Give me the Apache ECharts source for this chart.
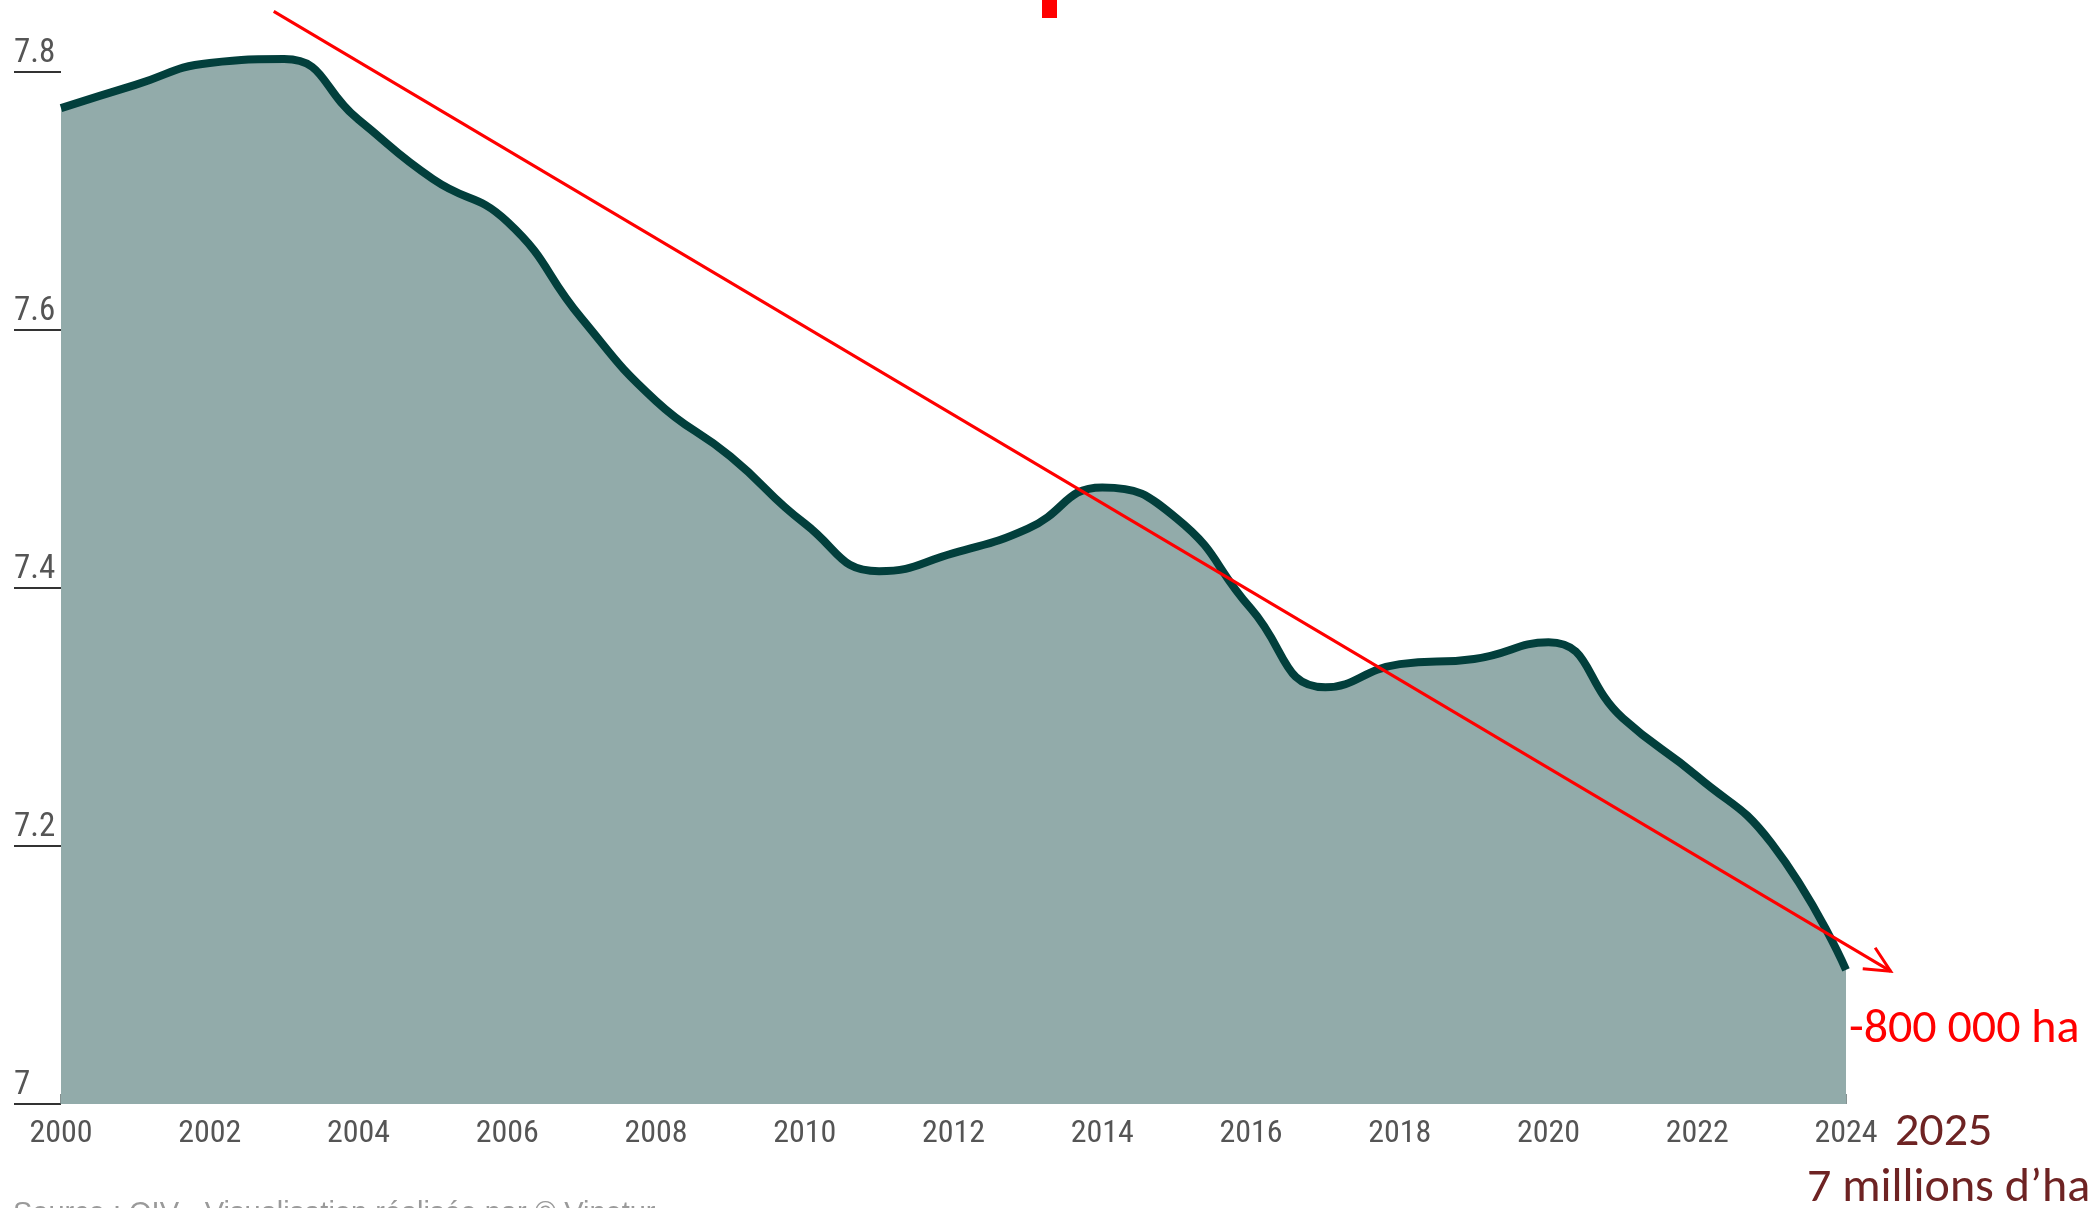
<!DOCTYPE html>
<html>
<head>
<meta charset="utf-8">
<script src="https://cdn.jsdelivr.net/npm/echarts@6/dist/echarts.min.js"></script>
<style>
  html, body { margin: 0; padding: 0; background: #ffffff; }
  #main { width: 2097px; height: 1208px; }
</style>
</head>
<body>
<div id="main"></div>
<script>
  // surface du vignoble mondial (millions d'ha)
  var years = [2000, 2001, 2002, 2003, 2004, 2005, 2006, 2007, 2008, 2009, 2010, 2011,
               2012, 2013, 2014, 2015, 2016, 2017, 2018, 2019, 2020, 2021, 2022, 2023, 2024];
  var surface = [7.772, 7.790, 7.807, 7.810, 7.763, 7.717, 7.684, 7.609, 7.545, 7.502, 7.450, 7.413,
                 7.427, 7.446, 7.478, 7.454, 7.384, 7.323, 7.341, 7.345, 7.358, 7.299, 7.254, 7.202, 7.104];
  var yTicks = [7, 7.2, 7.4, 7.6, 7.8];
  var xTicks = [2000, 2002, 2004, 2006, 2008, 2010, 2012, 2014, 2016, 2018, 2020, 2022, 2024];
  // tendance (flèche rouge) : début et fin en coordonnées données
  var trendStart = [2002.86, 7.847];
  var trendEnd = [2024.6, 7.103];

  var axisFont = "'Roboto Condensed', 'Liberation Sans Narrow', Roboto, sans-serif";
  var noteFont = "Carlito, 'Open Sans', 'Noto Sans', sans-serif";

  var myChart = echarts.init(document.getElementById('main'));

  var option = {
    backgroundColor: '#ffffff',
    animation: false,
    grid: { left: 61, right: 251, top: 72, bottom: 104 },
    xAxis: {
      type: 'value',
      min: xTicks[0],
      max: xTicks[xTicks.length - 1],
      interval: 2,
      axisLine: { show: false },
      axisTick: { show: true, inside: true, length: 10, lineStyle: { color: '#5f6f6f', width: 1.5 } },
      splitLine: { show: false },
      axisLabel: {
        color: '#555555',
        fontFamily: axisFont,
        fontSize: 32,
        margin: 14,
        formatter: function (v) { return String(v); }
      }
    },
    yAxis: {
      type: 'value',
      min: yTicks[0],
      max: yTicks[yTicks.length - 1],
      interval: 0.2,
      axisLine: { show: false },
      axisTick: { show: true, inside: false, length: 47, lineStyle: { color: '#333333', width: 2 } },
      splitLine: { show: false },
      axisLabel: {
        color: '#555555',
        fontFamily: axisFont,
        fontSize: 33,
        align: 'left',
        verticalAlign: 'bottom',
        margin: 47,
        padding: [0, 0, 2, 0],
        formatter: function (v) { return String(Math.round(v * 10) / 10); }
      }
    },
    series: [
      {
        type: 'line',
        data: years.map(function (y, i) { return [y, surface[i]]; }),
        smooth: 0.5,
        clip: false,
        showSymbol: false,
        lineStyle: { color: '#023f3c', width: 8 },
        areaStyle: { color: '#92abaa', opacity: 1 }
      }
    ]
  };

  myChart.setOption(option);

  // annotations
  var p0 = myChart.convertToPixel({ gridIndex: 0 }, trendStart);
  var p1 = myChart.convertToPixel({ gridIndex: 0 }, trendEnd);
  var ang = Math.atan2(p1[1] - p0[1], p1[0] - p0[0]);
  var headLen = 28, headAng = 0.45;
  var h1 = [p1[0] - headLen * Math.cos(ang - headAng), p1[1] - headLen * Math.sin(ang - headAng)];
  var h2 = [p1[0] - headLen * Math.cos(ang + headAng), p1[1] - headLen * Math.sin(ang + headAng)];

  myChart.setOption({
    graphic: [
      {
        type: 'line',
        shape: { x1: p0[0], y1: p0[1], x2: p1[0], y2: p1[1] },
        style: { stroke: '#ff0000', lineWidth: 3 },
        z: 10
      },
      {
        type: 'polyline',
        shape: { points: [h1, p1, h2] },
        style: { stroke: '#ff0000', lineWidth: 3, fill: null },
        z: 10
      },
      {
        type: 'rect',
        shape: { x: 1042, y: 0, width: 15, height: 18 },
        style: { fill: '#ff0000' }
      },
      {
        type: 'text',
        x: 1849, y: 1030,
        style: { text: '-800 000 ha', fill: '#ff0000', font: '48px ' + noteFont, verticalAlign: 'middle' }
      },
      {
        type: 'text',
        x: 1895, y: 1133,
        style: { text: '2025', fill: '#6e2323', font: '48px ' + noteFont, verticalAlign: 'middle' }
      },
      {
        type: 'text',
        x: 1807, y: 1189,
        style: { text: '7 millions d\u2019ha', fill: '#6e2323', font: '48px ' + noteFont, verticalAlign: 'middle' }
      },
      {
        type: 'text',
        x: 13, y: 1199,
        style: { text: 'Source : OIV · Visualisation réalisée par © Vinetur', fill: '#9a9a9a', font: '29px "Liberation Sans", Arial, sans-serif', verticalAlign: 'top' }
      }
    ]
  });

  window.addEventListener('resize', function () {
    myChart.resize();
  });
</script>
</body>
</html>
